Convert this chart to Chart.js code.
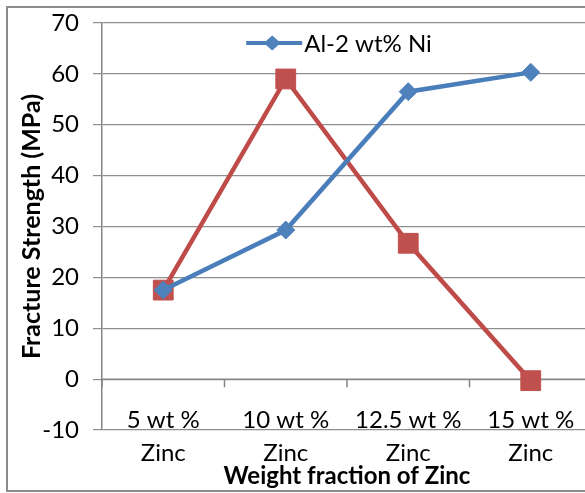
<!DOCTYPE html>
<html>
<head>
<meta charset="utf-8">
<script src="https://cdn.jsdelivr.net/npm/chart.js@4.4.0/dist/chart.umd.min.js"></script>
<style>
  body { margin: 0; background: #fff; overflow: hidden; }
  #frame { position: absolute; left: 6px; top: 6px; width: 640px; height: 482px; border: 2px solid #8c8c8c; }
  #chart { position: absolute; left: 0; top: 0; }
</style>
</head>
<body>
<div id="frame"></div>
<canvas id="chart" width="607" height="493"></canvas>
<script>
// fracture strength vs zinc content
const categories = [['5 wt %', 'Zinc'], ['10 wt %', 'Zinc'], ['12.5 wt %', 'Zinc'], ['15 wt %', 'Zinc']];
const alNiLabel = 'Al-2 wt% Ni';
const alNiValues = [17.5, 29.3, 56.5, 60.3];
const secondValues = [17.5, 59.0, 26.7, -0.3];
const yMin = -10;
const yMax = 70;
const yStep = 10;

const BLUE_LINE = '#4a7ebb';
const BLUE_MARK = '#4f81bd';
const RED_LINE = '#be4b48';
const RED_MARK = '#c0504d';
const AXIS = '#868686';
const FONT = 'Lato';

// darker axis line at zero with category tick marks below it
const zeroAxis = {
    id: 'zeroAxis',
    beforeDatasetsDraw(chart) {
        const { ctx, chartArea, scales: { x, y } } = chart;
        const y0 = y.getPixelForValue(0);
        ctx.save();
        ctx.strokeStyle = AXIS;
        ctx.lineWidth = 1.5;
        ctx.beginPath();
        ctx.moveTo(chartArea.left, y0);
        ctx.lineTo(chartArea.right, y0);
        for (let i = 0; i <= categories.length; i++) {
            const px = x.getPixelForValue(i - 0.5);
            ctx.moveTo(px, y0);
            ctx.lineTo(px, y0 + 8);
        }
        ctx.stroke();
        ctx.restore();
    }
};

// legend entry drawn inside the plot: line with a diamond marker
const lineLegend = {
    id: 'lineLegend',
    afterDatasetsDraw(chart) {
        const ds = chart.data.datasets[0];
        const { ctx, chartArea } = chart;
        ctx.save();
        ctx.font = '24px ' + FONT;
        const tw = ctx.measureText(ds.label).width;
        const total = 58 + tw;
        const x0 = (chartArea.left + chartArea.right) / 2 - total / 2 - 8;
        const yc = chartArea.top + 20;
        ctx.strokeStyle = ds.borderColor;
        ctx.lineWidth = 4;
        ctx.beginPath();
        ctx.moveTo(x0, yc);
        ctx.lineTo(x0 + 56, yc);
        ctx.stroke();
        const r = 8.5;
        ctx.fillStyle = ds.pointBackgroundColor;
        ctx.beginPath();
        ctx.moveTo(x0 + 26, yc - r + 1);
        ctx.lineTo(x0 + 26 + r, yc);
        ctx.lineTo(x0 + 26, yc + r - 1);
        ctx.lineTo(x0 + 26 - r, yc);
        ctx.closePath();
        ctx.fill();
        ctx.fillStyle = '#000';
        ctx.textBaseline = 'middle';
        ctx.fillText(ds.label, x0 + 58, yc + 1);
        ctx.restore();
    }
};

new Chart(document.getElementById('chart'), {
    type: 'line',
    data: {
        labels: categories,
        datasets: [
            {
                label: alNiLabel,
                data: alNiValues,
                borderColor: BLUE_LINE,
                borderWidth: 4.5,
                pointStyle: 'rectRot',
                pointRadius: 9,
                pointBackgroundColor: BLUE_MARK,
                pointBorderColor: BLUE_MARK,
                pointBorderWidth: 1,
                tension: 0
            },
            {
                label: 'second series',
                data: secondValues,
                borderColor: RED_LINE,
                borderWidth: 4.5,
                pointStyle: 'rect',
                pointRadius: 14,
                pointBackgroundColor: RED_MARK,
                pointBorderColor: RED_MARK,
                pointBorderWidth: 1,
                tension: 0
            }
        ]
    },
    options: {
        responsive: false,
        animation: false,
        layout: { padding: { left: 0, top: 23, right: 3, bottom: 2 } },
        plugins: {
            legend: { display: false },
            tooltip: { enabled: false }
        },
        scales: {
            x: {
                offset: true,
                afterFit(scale) {
                    scale.height = 61;
                    scale.paddingLeft = 0;
                    scale.paddingRight = 0;
                },
                grid: { display: false, drawTicks: false },
                border: { display: false },
                ticks: {
                    // mirrored so the first line may sit just above the bottom gridline
                    mirror: true,
                    color: '#000',
                    padding: -7,
                    maxRotation: 0,
                    font: { family: FONT, size: 24, lineHeight: 1.38 }
                },
                title: {
                    display: true,
                    text: 'Weight fraction of Zinc',
                    color: '#000',
                    padding: { top: 0, bottom: 0 },
                    font: { family: FONT, size: 24, weight: 'bold' }
                }
            },
            y: {
                min: yMin,
                max: yMax,
                afterFit(scale) {
                    scale.width = 102;
                    scale.paddingTop = 0;
                    scale.paddingBottom = 0;
                },
                ticks: {
                    stepSize: yStep,
                    color: '#000',
                    padding: 14,
                    font: { family: FONT, size: 24 }
                },
                grid: { color: '#8e8e8e', lineWidth: 1.2, tickLength: 9 },
                border: { color: AXIS, width: 1.5 },
                title: {
                    display: true,
                    text: 'Fracture Strength (MPa)',
                    color: '#000',
                    padding: { top: 17, bottom: 0 },
                    font: { family: FONT, size: 25, weight: 'bold' }
                }
            }
        }
    },
    plugins: [zeroAxis, lineLegend]
});
</script>
</body>
</html>
